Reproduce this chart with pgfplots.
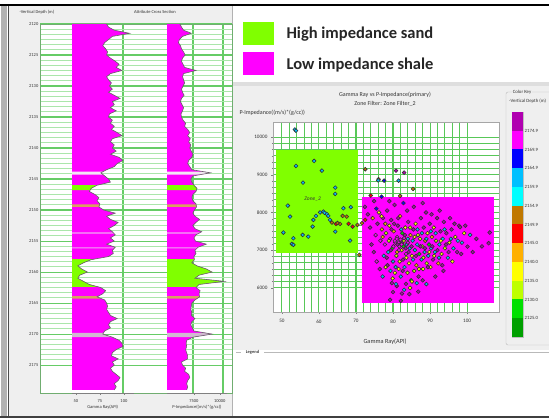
\documentclass[border=0pt]{standalone}
\usepackage{fontspec}
\setmainfont{Carlito}
\usepackage{pgfplots}
\usepackage{pgfplotstable}
\pgfplotsset{compat=1.18}
\pgfplotsset{/pgf/number format/assume math mode=true, /pgf/number format/1000 sep={}}

\definecolor{shale}{HTML}{FF00FF}
\definecolor{sand}{HTML}{80FF00}
\definecolor{gridg}{HTML}{66CC66}
\definecolor{gridgl}{HTML}{ABE6AB}
\definecolor{xgrid}{HTML}{58C858}
\definecolor{panelgray}{HTML}{EFEFEF}
\definecolor{tanband}{HTML}{D8A060}
\definecolor{paleband}{HTML}{F3E6F3}
\definecolor{pinkline}{HTML}{F0A8F0}
\definecolor{grayband}{HTML}{D2B8D2}

% log curves; first and last rows are the track's left edge (46 API, 4900) that close the fill
\pgfplotstableread{
depth gr imp
2120.0 46 4900
2120.0 82 6150
2120.5 84 6300
2121.0 90 6500
2121.5 106 7250
2122.0 88 6400
2122.5 84 6100
2123.0 80 6000
2123.5 78 6200
2124.0 81 6300
2124.5 83 6500
2125.0 82 6650
2125.5 86 6400
2126.0 91 6300
2126.5 95 6450
2127.0 92 6600
2127.5 98 7700
2128.0 86 6500
2128.5 82 6400
2129.0 84 6500
2129.5 87 6600
2130.0 85 6450
2130.5 88 6300
2131.0 84 6400
2131.5 90 6550
2132.0 96 6300
2132.5 88 6200
2133.0 90 6350
2133.5 86 6500
2134.0 92 6400
2134.5 85 6250
2135.0 84 6300
2135.5 88 6450
2136.0 86 6700
2136.5 90 6600
2137.0 87 6900
2137.5 93 7100
2138.0 98 6900
2138.5 88 7150
2139.0 86 7000
2139.5 90 7200
2140.0 88 7100
2140.5 92 7250
2141.0 86 7400
2141.5 95 7300
2142.0 99 7000
2142.5 93 6900
2143.0 90 7100
2143.5 82 7300
2144.0 76 9100
2144.5 80 7400
2145.0 84 7200
2145.5 86 7300
2146.0 72 7500
2146.5 66 7800
2147.0 64 7700
2147.5 70 7400
2148.0 74 7300
2148.5 72 7400
2149.0 75 7700
2149.5 74 7750
2150.0 79 7550
2150.5 91 7400
2151.0 82 7600
2151.5 86 8050
2152.0 94 7700
2152.5 90 7400
2153.0 84 7600
2153.5 88 8250
2154.0 91 7700
2154.5 86 7500
2155.0 90 7650
2155.5 82 8700
2156.0 91 7900
2156.5 88 7600
2157.0 89 7700
2157.5 84 7500
2158.0 66 7550
2158.5 58 7300
2159.0 52 7800
2159.5 56 8700
2160.0 62 9250
2160.5 54 8000
2161.0 52 7600
2161.5 58 10450
2162.0 64 8000
2162.5 76 7700
2163.0 81 8100
2163.5 78 8000
2164.0 72 8050
2164.5 80 7600
2165.0 82 7300
2165.5 83 7250
2166.0 82 7200
2166.5 84 7300
2167.0 86 7250
2167.5 93 7600
2168.0 86 7300
2168.5 84 7200
2169.0 86 7350
2169.5 80 7500
2170.0 78 9250
2170.5 88 7400
2171.0 95 6800
2171.5 98 6750
2172.0 99 6800
2172.5 92 6700
2173.0 88 6800
2173.5 87 6900
2174.0 94 6900
2174.5 88 6300
2175.0 90 6400
2175.5 86 6700
2176.0 88 6600
2176.5 92 7000
2177.0 96 7100
2177.5 94 6900
2178.0 90 6800
2178.5 92 6900
2179.0 90 6800
2179.0 46 4900
}\logdata

% facies intervals (same curves, closed at the left edge of each track)
\pgfplotstableread{
depth gr imp
2143.8 46 4900
2143.8 78.4 8380
2144.0 76 9100
2144.3 78.4 8080
2144.3 46 4900
}\bandA
\pgfplotstableread{
depth gr imp
2146.0 46 4900
2146.0 72 7500
2146.5 66 7800
2146.8 64.8 7740
2146.8 46 4900
}\bandB
\pgfplotstableread{
depth gr imp
2149.1 46 4900
2149.1 74.8 7710
2149.5 74 7750
2149.5 46 4900
}\bandC
\pgfplotstableread{
depth gr imp
2153.6 46 4900
2153.6 88.6 8140
2153.8 89.8 7920
2153.8 46 4900
}\bandD
\pgfplotstableread{
depth gr imp
2156.0 46 4900
2156.0 91 7900
2156.2 89.8 7780
2156.2 46 4900
}\bandE
\pgfplotstableread{
depth gr imp
2157.9 46 4900
2157.9 69.6 7540
2158.0 66 7550
2158.5 58 7300
2159.0 52 7800
2159.5 56 8700
2160.0 62 9250
2160.5 54 8000
2161.0 52 7600
2161.5 58 10450
2162.0 64 8000
2162.4 73.6 7760
2162.4 46 4900
}\bandF
\pgfplotstableread{
depth gr imp
2163.9 46 4900
2163.9 73.2 8040
2164.0 72 8050
2164.3 76.8 7780
2164.3 46 4900
}\bandG
\pgfplotstableread{
depth gr imp
2169.8 46 4900
2169.8 78.8 8550
2170.0 78 9250
2170.5 88 7400
2170.5 46 4900
}\bandH

\pgfplotstableread{
x y d
53.5 10200 2161
53.8 10170 2161
53.8 9234 2159
58.7 9367 2159
60.8 9110 2158
55.7 8792 2159
64.4 8660 2158
64.4 8492 2158
51.6 8182 2159
52.2 7890 2158
50.4 7467 2159
53.1 7317 2161
52.7 7167 2159
53.1 7140 2161
55.6 7405 2158
57.1 7360 2159
58.3 7625 2158
58.5 7803 2159
59.2 7909 2158
61.2 8023 2159
62.1 7962 2158
62.5 7909 2159
63.0 7803 2158
64.4 7493 2159
66.6 8113 2158
68.6 8140 2159
68.4 7255 2158
61.5 7990 2161
60.3 8000 2158
63.5 7732 2148
64.6 7697 2147
65.7 7697 2148
66.4 7909 2151
67.5 7890 2148
69.1 7625 2147
70.4 7670 2151
71.6 7715 2148
72.5 7803 2147
70.9 6875 2148
65.0 7720 2152
68.0 7700 2147
72.5 9146 2151
76.1 8882 2151
76.0 8850 2159
77.6 8845 2166
80.8 9110 2172
83.0 9057 2172
81.5 8845 2159
85.4 8625 2152
76.9 8420 2166
81.9 8440 2151
74.0 8450 2147
75.5 8100 2166
72.4 8150 2172
73.2 7950 2177
73.8 7600 2172
74.5 7850 2142
74.9 8300 2177
75.3 7400 2167
75.8 7700 2172
76.2 8000 2137
76.6 7250 2167
77.0 7550 2142
77.3 7850 2172
77.8 7150 2167
78.1 7450 2132
78.4 8050 2177
78.7 6950 2157
79.0 7650 2137
79.2 7300 2167
79.5 7800 2172
79.8 7050 2127
80.0 6700 2157
80.2 7500 2142
80.4 8200 2172
80.6 7200 2167
80.9 6850 2132
81.1 7350 2167
81.3 7650 2177
81.5 6500 2137
81.7 7100 2167
81.9 7900 2142
82.1 6300 2157
82.3 7000 2137
82.5 7450 2127
82.7 6750 2172
82.9 7250 2132
83.1 6550 2157
83.3 7600 2137
83.5 6900 2167
83.7 7150 2157
83.9 6400 2132
84.1 7750 2172
84.3 6650 2137
84.5 7050 2157
84.7 7400 2142
84.9 6200 2127
85.1 6850 2137
85.3 7250 2157
85.5 7550 2172
85.7 6450 2132
85.9 7000 2157
86.1 7700 2137
86.3 6600 2142
86.5 7150 2157
86.7 7400 2132
86.9 6300 2172
87.1 6900 2127
87.3 7300 2137
87.5 7850 2177
87.7 6750 2157
87.9 7100 2132
88.1 6500 2137
88.3 7600 2172
88.5 6950 2157
88.7 7250 2142
88.9 8000 2177
89.1 6650 2132
89.3 7450 2137
89.5 6850 2157
89.7 7150 2127
89.9 7700 2172
90.1 6550 2137
90.3 7050 2157
90.5 7350 2142
90.8 6750 2172
91.0 7600 2137
91.3 6950 2157
91.6 7250 2132
91.9 7850 2177
92.2 6650 2142
92.5 7150 2157
92.8 7500 2172
93.1 6900 2137
93.4 7300 2157
93.7 7750 2177
94.0 7050 2132
94.4 7450 2172
94.8 6800 2157
95.2 7200 2137
95.4 7848 2177
95.8 7550 2172
96.3 7050 2157
96.8 7350 2137
97.3 6950 2172
97.8 7650 2177
98.1 7610 2172
98.6 7200 2157
99.2 7450 2137
100.1 7095 2172
100.8 7405 2157
101.5 6950 2177
102.5 7300 2172
104.0 7100 2172
105.8 7185 2172
106.1 7467 2177
79.7 6126 2177
80.0 5887 2177
84.4 5834 2177
79.2 5683 2177
82.1 5656 2177
83.5 6107 2172
86.4 6126 2157
85.1 6168 2137
81.0 6050 2172
83.0 5950 2157
88.0 6200 2172
80.5 6400 2137
78.5 6600 2172
77.5 6850 2157
80.5 7250 2167
81.0 7300 2167
81.5 7200 2167
82.0 7280 2167
81.2 7150 2177
82.4 7180 2177
83.0 7320 2167
74.2 7150 2172
74.8 6950 2177
75.6 6700 2167
76.4 6500 2172
76.9 7900 2137
77.2 6300 2157
77.9 7700 2142
78.3 6800 2177
78.9 7250 2132
79.3 6450 2157
79.6 7550 2177
79.9 6250 2137
80.3 7700 2172
80.7 6550 2157
81.1 6950 2142
81.4 7850 2172
81.8 6700 2137
82.2 7550 2157
82.6 6450 2172
82.8 7100 2127
83.2 7400 2177
83.6 6800 2137
84.0 7300 2157
84.2 6950 2172
84.6 7600 2132
85.0 7100 2177
85.4 6750 2157
85.8 7350 2137
86.2 6850 2172
86.6 7550 2157
87.0 6500 2137
87.4 7100 2172
87.8 7450 2157
88.2 6800 2132
88.6 7050 2172
89.0 7300 2157
89.4 6550 2177
89.8 6950 2137
90.2 7500 2157
90.6 7100 2172
91.1 6850 2137
91.5 7450 2157
92.0 7000 2172
92.4 6800 2157
92.9 7250 2137
93.3 6600 2172
93.9 7550 2157
94.3 7150 2177
95.0 6950 2172
95.6 7300 2157
96.0 6700 2137
96.6 7700 2172
97.5 7250 2157
98.4 6900 2177
99.5 7650 2172
83.8 8050 2172
85.6 8150 2177
88.0 8250 2172
90.4 7950 2177
92.6 8050 2172
79.0 8300 2177
82.8 8250 2166
77.2 7350 2142
78.0 6550 2137
80.8 6100 2157
82.4 5850 2172
84.6 6000 2137
86.8 5900 2177
89.0 6100 2157
91.4 6300 2172
93.6 6450 2177
81.6 7000 2167
82.3 7150 2167
83.4 7050 2177
84.0 7200 2167
80.1 7100 2167
79.4 7000 2177
}\xplotdata

\pgfplotstableread{
x y
48.4 6925
70.6 6925
70.6 9660
48.4 9660
}\sandzone
\pgfplotstableread{
x y
71.6 5600
107.3 5600
107.3 8410
71.6 8410
}\shalezone

\pgfplotsset{
  logtrack/.style={
    anchor=south west, scale only axis, height=369pt,
    ymin=-2179.5, ymax=-2120,
    hide y axis, axis x line*=bottom,
    minor x tick num=4,
    x axis line style={gray, line width=0.5pt},
    tick style={gray, line width=0.4pt}, tick align=outside,
    major tick length=2pt, minor tick length=1.2pt,
    xticklabel style={font=\fontsize{4.5}{5}\selectfont, text=black!80, inner sep=1pt, yshift=-3pt},
    xlabel style={font=\fontsize{4.5}{5}\selectfont, text=black!80, inner sep=0pt, yshift=-1.5pt},
    scaled ticks=false,
  },
}

\begin{document}
\begin{tikzpicture}
\path[use as bounding box] (0pt,0pt) rectangle (549pt,419pt);
\clip (0pt,0pt) rectangle (549pt,419pt);
\begin{scope}[x=1pt,y=1pt]
\fill[white] (0,0) rectangle (549,419);
% left panel
\fill[panelgray] (9,3) rectangle (232,414);
\fill[black!30] (1,3) rectangle (7,414);
\draw[black!70, line width=0.8] (8.5,3) -- (8.5,414);
\draw[gray!60, line width=0.8] (232.5,3) -- (232.5,414);
% right panel
\fill[panelgray] (233,69) rectangle (549,333);
\fill[black!13] (233,333) rectangle (549,337);
\draw[gray!55] (236,67) -- (241,67);
\draw[gray!55] (264,67) -- (549,67);
\node[font=\fontsize{4.5}{5}\selectfont\bfseries, text=black!75] at (252.5,67) {Legend};
% outer frame
\draw[black, line width=2] (0,414) -- (549,414);
\draw[black!75, line width=2.5] (0,2) -- (549,2);
% legend boxes
\fill[sand] (243,374) rectangle (274,396.5);
\fill[shale] (243,344) rectangle (274,366.5);
\node[anchor=west, font=\fontsize{16.5}{18}\selectfont\bfseries, text=black!85] at (283,385) {High impedance sand};
\node[anchor=west, font=\fontsize{16.5}{18}\selectfont\bfseries, text=black!85] at (283,354) {Low impedance shale};
% left headers
\node[anchor=west, font=\fontsize{4.5}{5}\selectfont, text=black!80] at (16,407) {-Vertical Depth (m)};
\node[font=\fontsize{4.5}{5}\selectfont, text=black!80] at (155,407) {Attribute Cross Section};
% scatter headers
\node[font=\fontsize{6}{7}\selectfont, text=black!80] at (385,324) {Gamma Ray vs P-Impedance(primary)};
\node[font=\fontsize{6}{7}\selectfont, text=black!80] at (385,315.5) {Zone Filter: Zone Filter\_2};
\node[anchor=west, font=\fontsize{6}{7}\selectfont, text=black!80] at (236,306) {P-Impedance((m/s)*(g/cc))};
\node[font=\fontsize{6.3}{7}\selectfont, text=black!80] at (385,77) {Gamma Ray(API)};
% color key frame
\draw[gray!55, rounded corners=2] (506,74) rectangle (560,327);
\node[fill=panelgray, inner sep=1pt, font=\fontsize{4.8}{5}\selectfont, text=black!80] at (522,327) {Color Key};
\node[anchor=west, inner sep=0pt, font=\fontsize{4.8}{5}\selectfont, text=black!80] at (509,318) {-Vertical Depth (m)};
\end{scope}

% ---------- depth frame / grid (depth plotted as negative values so it grows downward) ----------
\begin{axis}[
  at={(40pt,26pt)}, anchor=south west, scale only axis,
  width=192pt, height=369pt,
  xmin=0, xmax=192, ymin=-2179.5, ymax=-2120,
  xtick={83,153,183}, xticklabels={},
  ytick={-2175,-2170,...,-2120}, minor y tick num=5,
  yticklabel={\pgfmathparse{-\tick}\pgfmathprintnumber[fixed,precision=0]{\pgfmathresult}},
  ymajorgrids, yminorgrids, xmajorgrids,
  major grid style={gridg, line width=1.1pt},
  minor grid style={gridgl, line width=1pt},
  axis background/.style={fill=white},
  axis line style={draw=gridg!60!gray, line width=0.6pt},
  tick style={draw=none},
  yticklabel style={font=\fontsize{4.5}{5}\selectfont, text=black!80, inner sep=1.5pt},
  scaled ticks=false,
]
\addplot[draw=none] coordinates {(0,-2120)};
\end{axis}

% ---------- Gamma ray track ----------
\begin{axis}[logtrack, at={(72pt,26pt)}, width=61.5pt,
  xmin=46, xmax=110, xtick={50,75,100}, xlabel={Gamma Ray(API)}]
\addplot[fill=shale, draw=none] table[x=gr, y expr=-\thisrow{depth}]{\logdata};
\addplot[fill=paleband, draw=none] table[x=gr, y expr=-\thisrow{depth}]{\bandA};
\addplot[fill=sand, draw=none] table[x=gr, y expr=-\thisrow{depth}]{\bandB};
\addplot[fill=tanband, draw=none] table[x=gr, y expr=-\thisrow{depth}]{\bandC};
\addplot[fill=pinkline, draw=none] table[x=gr, y expr=-\thisrow{depth}]{\bandD};
\addplot[fill=pinkline, draw=none] table[x=gr, y expr=-\thisrow{depth}]{\bandE};
\addplot[fill=sand, draw=none] table[x=gr, y expr=-\thisrow{depth}]{\bandF};
\addplot[fill=tanband, draw=none] table[x=gr, y expr=-\thisrow{depth}]{\bandG};
\addplot[fill=grayband, draw=none] table[x=gr, y expr=-\thisrow{depth}]{\bandH};
\addplot[draw=black!60, line width=0.6pt, restrict x to domain=47:200] table[x=gr, y expr=-\thisrow{depth}]{\logdata};
\end{axis}

% ---------- P-impedance track ----------
\begin{axis}[logtrack, at={(167pt,26pt)}, width=60pt,
  xmin=4900, xmax=10700, xtick={7500,10000}, xlabel={P-Impedance((m/s)*(g/cc))}]
\addplot[fill=shale, draw=none] table[x=imp, y expr=-\thisrow{depth}]{\logdata};
\addplot[fill=paleband, draw=none] table[x=imp, y expr=-\thisrow{depth}]{\bandA};
\addplot[fill=sand, draw=none] table[x=imp, y expr=-\thisrow{depth}]{\bandB};
\addplot[fill=tanband, draw=none] table[x=imp, y expr=-\thisrow{depth}]{\bandC};
\addplot[fill=pinkline, draw=none] table[x=imp, y expr=-\thisrow{depth}]{\bandD};
\addplot[fill=pinkline, draw=none] table[x=imp, y expr=-\thisrow{depth}]{\bandE};
\addplot[fill=sand, draw=none] table[x=imp, y expr=-\thisrow{depth}]{\bandF};
\addplot[fill=tanband, draw=none] table[x=imp, y expr=-\thisrow{depth}]{\bandG};
\addplot[fill=grayband, draw=none] table[x=imp, y expr=-\thisrow{depth}]{\bandH};
\addplot[draw=black!60, line width=0.6pt, restrict x to domain=4950:20000] table[x=imp, y expr=-\thisrow{depth}]{\logdata};
\end{axis}

% ---------- crossplot ----------
\begin{axis}[
  at={(273pt,107pt)}, anchor=south west, scale only axis,
  width=226pt, height=190pt,
  xmin=47.6, xmax=108.6, ymin=5360, ymax=10400,
  xtick={50,60,...,100}, ytick={6000,7000,...,10000},
  minor x tick num=4, minor y tick num=5,
  grid=both,
  major grid style={xgrid, line width=1.1pt},
  minor grid style={xgrid, line width=0.9pt},
  axis background/.style={fill=white},
  axis line style={gray!70, line width=0.5pt},
  tick style={gray, line width=0.4pt}, tick align=outside,
  major tick length=2pt, minor tick length=1.2pt,
  xtick pos=bottom, ytick pos=left,
  ticklabel style={font=\fontsize{5.2}{6}\selectfont, text=black!80},
  xticklabel style={yshift=-2pt},
  scaled ticks=false,
  colormap={depthkey}{rgb255=(0,160,0) rgb255=(0,224,0) rgb255=(190,255,0) rgb255=(255,255,0) rgb255=(255,176,0) rgb255=(255,0,0) rgb255=(192,120,0) rgb255=(0,255,255) rgb255=(0,192,255) rgb255=(0,0,255) rgb255=(255,0,255) rgb255=(176,0,176) rgb255=(176,0,176)},
  colormap access=piecewise constant,
  point meta min=2120, point meta max=2180,
]
\addplot[fill=sand, draw=none] table[x=x, y=y]{\sandzone};
\addplot[fill=shale, draw=none] table[x=x, y=y]{\shalezone};
\addplot[scatter, only marks, mark=*, mark size=1.9pt, point meta=explicit,
  scatter/use mapped color={draw=black!80, fill=mapped color, line width=0.6pt}]
  table[x=x, y=y, meta=d]{\xplotdata};
\node[font=\fontsize{5.5}{6}\selectfont\itshape, text=black!80] at (axis cs:58.3,8350) {Zone\_2};
\end{axis}

% ---------- colour key ----------
\begin{axis}[
  at={(512pt,82pt)}, anchor=south west, scale only axis,
  width=11pt, height=225pt,
  xmin=0, xmax=1, ymin=2120, ymax=2180,
  xtick=\empty,
  ytick={2125,2130,2135,2140,2145,2150,2155,2160,2165,2170,2175},
  yticklabels={2125.0,2130.0,2135.0,2140.0,2145.0,2149.9,2154.9,2159.9,2164.9,2169.9,2174.9},
  yticklabel pos=right,
  yticklabel style={font=\fontsize{4.8}{5}\selectfont, text=black!80, inner sep=1.5pt},
  tick style={draw=none},
  axis line style={gray!50, line width=0.4pt},
]
\addplot[fill={rgb,255:red,0;green,160;blue,0}, draw=none] coordinates {(0,2120) (1,2120) (1,2125) (0,2125)};
\addplot[fill={rgb,255:red,0;green,224;blue,0}, draw=none] coordinates {(0,2125) (1,2125) (1,2130) (0,2130)};
\addplot[fill={rgb,255:red,190;green,255;blue,0}, draw=none] coordinates {(0,2130) (1,2130) (1,2135) (0,2135)};
\addplot[fill={rgb,255:red,255;green,255;blue,0}, draw=none] coordinates {(0,2135) (1,2135) (1,2140) (0,2140)};
\addplot[fill={rgb,255:red,255;green,176;blue,0}, draw=none] coordinates {(0,2140) (1,2140) (1,2145) (0,2145)};
\addplot[fill={rgb,255:red,255;green,0;blue,0}, draw=none] coordinates {(0,2145) (1,2145) (1,2150) (0,2150)};
\addplot[fill={rgb,255:red,192;green,120;blue,0}, draw=none] coordinates {(0,2150) (1,2150) (1,2155) (0,2155)};
\addplot[fill={rgb,255:red,0;green,255;blue,255}, draw=none] coordinates {(0,2155) (1,2155) (1,2160) (0,2160)};
\addplot[fill={rgb,255:red,0;green,192;blue,255}, draw=none] coordinates {(0,2160) (1,2160) (1,2165) (0,2165)};
\addplot[fill={rgb,255:red,0;green,0;blue,255}, draw=none] coordinates {(0,2165) (1,2165) (1,2170) (0,2170)};
\addplot[fill={rgb,255:red,255;green,0;blue,255}, draw=none] coordinates {(0,2170) (1,2170) (1,2175) (0,2175)};
\addplot[fill={rgb,255:red,176;green,0;blue,176}, draw=none] coordinates {(0,2175) (1,2175) (1,2180) (0,2180)};
\end{axis}
\end{tikzpicture}
\end{document}
